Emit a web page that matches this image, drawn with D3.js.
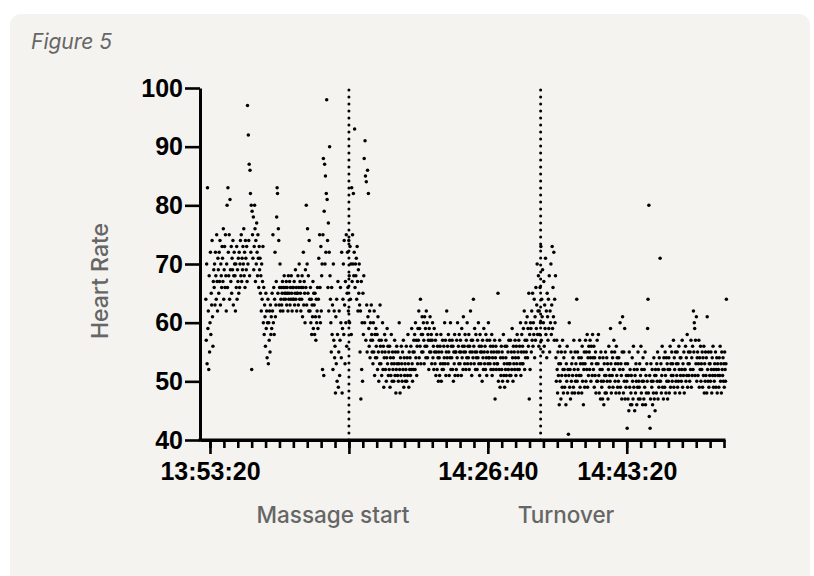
<!DOCTYPE html>
<html>
<head>
<meta charset="utf-8">
<script src="https://cdn.jsdelivr.net/npm/d3@7"></script>
<style>
  body { margin: 0; background: #fff; }
  svg { display: block; }
  .tick-label { font-family: "Liberation Sans", Arial, sans-serif; font-weight: bold; font-size: 25px; fill: #000; }
  .note { font-family: "Inter", "Inter Variable", "Open Sans", sans-serif; font-weight: 500; fill: #666; }
</style>
</head>
<body>
<svg id="chart" width="814" height="576"></svg>
<script>
// heart rate readings, one every 3 s from 13:52:50, in 5 minute blocks
const recordStart = "13:52:50";
const sampleStep = 3;

const hrBlock1 = [64,57,70,53,83,59,62,52,68,55, 60,72,58,65,63,74,61,56,67,69, 66,70,63,72,68,64,75,67,62,71, 69,65,72,67,74,63,70,68,66,73,
  71,67,76,64,69,73,66,75,68,62, 70,80,66,83,72,68,75,64,81,69, 67,73,65,71,69,74,63,68,72,70, 68,62,70,66,73,64,69,67,71,65,
  72,66,70,74,68,75,67,71,69,73, 70,76,68,72,66,74,71,69,73,67];
const hrBlock2 = [97,70,92,74,87,68,86,82,72,80, 52,79,75,71,78,69,73,80,76,67, 74,70,77,72,68,75,71,66,73,69, 71,65,68,62,70,64,67,73,60,66,
  58,63,61,56,65,59,62,54,60,64, 53,60,57,62,55,63,58,61,59,65, 62,75,60,66,58,64,72,61,63,67, 78,83,82,65,76,74,63,66,70,62,
  64,66,63,65,67,62,66,64,68,65, 66,64,65,67,63,66,65,62,68,64];
const hrBlock3 = [65,67,63,66,64,68,65,62,66,64, 66,64,67,63,65,69,64,66,62,65, 65,68,63,66,70,64,67,65,62,66, 64,68,61,66,72,63,67,65,60,69,
  66,80,63,70,76,65,68,62,74,64, 62,66,60,64,58,63,61,67,59,65, 63,58,65,61,57,64,60,62,66,59, 64,71,61,75,66,60,73,62,68,70,
  52,75,88,51,79,87,70,85,72,82, 98,81,74,66,77,62,72,90,68,64];
const hrBlock4 = [60,55,66,58,63,52,70,57,62,54, 56,48,61,53,64,50,58,67,49,55, 62,51,57,66,60,54,72,48,59,64, 70,58,74,63,53,67,60,75,56,65,
  72,66,62,74,68,60,73,64,70,58, 83,67,75,70,82,68,72,93,66,70, 68,71,64,73,67,62,69,65,70,63, 55,62,47,67,52,60,50,65,58,68,
  88,60,91,85,57,84,63,55,86,61, 82,59,56,62,54,60,57,63,58,55];
const hrBlock5 = [57,53,60,55,62,51,58,54,59,56, 54,58,52,61,55,50,57,53,63,56, 53,57,51,55,60,52,56,49,54,58, 55,52,57,50,54,59,53,56,51,55,
  52,56,49,54,51,58,53,50,55,52, 54,50,53,57,51,55,48,52,56,53, 51,55,50,53,60,52,48,54,51,56, 53,50,55,52,57,49,54,51,53,50,
  52,56,50,54,51,58,53,49,55,52, 54,51,56,52,59,53,50,55,52,57];
const hrBlock6 = [55,58,52,60,54,57,51,56,53,59, 57,62,54,59,56,64,53,58,55,61, 58,55,60,57,53,61,56,59,54,62, 56,60,54,58,57,52,59,55,61,57,
  55,58,53,57,60,54,56,52,59,55, 53,57,51,55,58,52,56,54,50,55, 54,51,56,53,58,50,55,52,57,53, 52,56,54,60,53,57,51,55,62,54,
  56,53,58,55,51,57,54,60,52,56, 54,57,52,56,50,55,53,58,51,55];
const hrBlock7 = [55,52,57,54,60,51,56,53,58,55, 53,57,55,51,59,54,56,52,61,55, 56,53,58,55,52,57,54,60,53,56, 54,58,52,56,55,62,53,57,51,55,
  57,54,64,56,53,59,55,52,58,54, 55,52,57,54,60,53,56,51,58,55, 53,56,55,50,57,54,52,59,55,53, 56,52,58,54,51,57,55,53,60,54,
  54,57,53,56,52,55,58,51,54,56, 52,55,53,57,47,54,56,52,55,53];
const hrBlock8 = [53,65,50,55,52,57,49,54,51,56, 52,55,50,54,58,51,53,49,56,52, 54,51,56,53,50,55,52,57,53,51, 53,57,51,55,52,59,54,50,56,53,
  55,52,57,54,51,56,53,58,52,55, 54,57,52,56,53,60,51,55,58,53, 56,53,59,55,62,52,57,54,60,55, 57,61,54,59,56,65,47,58,52,60,
  59,55,62,57,65,56,60,58,64,54, 61,57,66,59,63,70,58,62,68,56];
const hrBlock9 = [62,58,66,60,73,57,64,61,69,55, 60,67,56,63,59,71,58,62,54,65, 61,57,64,59,68,55,62,60,70,58, 63,73,59,66,61,72,57,64,60,68,
  54,50,57,52,48,55,51,53,46,56, 50,53,47,55,51,49,57,52,48,54, 52,49,55,51,46,53,50,56,48,52, 41,51,60,49,52,47,55,50,53,48,
  51,54,49,57,52,48,55,50,53,51, 64,50,55,52,48,54,51,57,49,53];
const hrBlock10 = [51,54,48,56,50,53,46,52,55,49, 53,57,50,55,52,58,49,54,51,56, 55,52,57,54,50,56,53,51,58,54, 52,56,49,54,51,55,48,53,50,57,
  50,53,58,51,48,54,52,47,55,50, 49,52,47,54,50,46,53,51,48,55, 51,48,54,50,53,47,52,56,49,51, 50,59,53,48,55,51,54,49,52,57,
  52,55,50,53,48,56,51,54,49,53, 50,54,48,52,60,49,53,51,47,55];
const hrBlock11 = [61,52,48,55,50,59,47,53,49,51, 50,42,53,47,51,45,55,49,52,46, 48,51,46,54,50,47,56,49,52,45, 51,48,53,50,46,52,49,55,47,50,
  49,53,47,51,56,48,52,50,46,54, 50,47,52,49,55,46,51,48,53,50, 59,64,48,80,44,51,42,47,53,50, 49,52,46,50,48,54,47,51,45,52,
  51,48,53,50,55,47,52,49,54,50, 71,50,53,48,51,56,49,52,47,54];
const hrBlock12 = [52,49,55,51,48,54,50,53,47,52, 50,54,48,52,56,49,53,51,55,50, 53,51,57,49,54,52,48,55,50,53, 51,55,49,53,50,56,52,48,54,51,
  54,50,52,57,49,53,51,55,48,52, 52,56,50,54,51,58,49,53,55,51, 53,50,55,52,57,49,54,51,56,52, 62,55,60,59,51,57,53,61,50,54,
  55,51,53,57,49,54,52,56,50,53, 52,55,49,54,51,56,48,53,50,55];
const hrBlock13 = [51,54,48,61,52,50,55,49,53,51, 53,50,55,52,48,54,51,56,49,52, 50,53,51,55,49,52,54,48,53,51, 52,49,54,51,56,50,53,48,55,52,
  51,54,50,53,49,55,52,50,53,64];

const events = ["14:10:00", "14:33:00"];
const eventNames = ["Massage start", "Turnover"];
const eventLabelX = [333, 566];

const yTicks = [40, 50, 60, 70, 80, 90, 100];
const majorTicks = ["13:53:20", "14:10:00", "14:26:40", "14:43:20"];
const majorLabels = ["13:53:20", "", "14:26:40", "14:43:20"];
const axisStart = "13:52:08";
const axisEnd = "14:55:00";
const minorStep = 100; // seconds

const parse = d3.timeParse("%H:%M:%S");
const readings = [].concat(hrBlock1, hrBlock2, hrBlock3, hrBlock4, hrBlock5, hrBlock6, hrBlock7,
  hrBlock8, hrBlock9, hrBlock10, hrBlock11, hrBlock12, hrBlock13);
const t0 = parse(recordStart).getTime();
const points = readings.map((v, i) => ({ t: new Date(t0 + i * sampleStep * 1000), v: v }));

const svg = d3.select("#chart");

svg.append("rect")
  .attr("x", 10).attr("y", 14)
  .attr("width", 800).attr("height", 600)
  .attr("rx", 11)
  .attr("fill", "#f4f3ef");

svg.append("text")
  .attr("class", "note")
  .attr("x", 31).attr("y", 49)
  .attr("font-size", 21)
  .style("font-weight", 400)
  .attr("font-style", "italic")
  .text("Figure 5");

const x = d3.scaleTime()
  .domain([parse(axisStart), parse(axisEnd)])
  .range([200, 724]);
const y = d3.scaleLinear()
  .domain([40, 100])
  .range([440, 88]);

// dotted event markers
svg.selectAll(".event")
  .data(events)
  .enter().append("line")
  .attr("class", "event")
  .attr("x1", d => x(parse(d))).attr("x2", d => x(parse(d)))
  .attr("y1", y(40)).attr("y2", y(100))
  .attr("stroke", "#000")
  .attr("stroke-width", 3)
  .attr("stroke-linecap", "round")
  .attr("stroke-dasharray", "0 7");

svg.append("g")
  .selectAll("circle")
  .data(points)
  .enter().append("circle")
  .attr("cx", d => x(d.t))
  .attr("cy", d => y(d.v))
  .attr("r", 1.75)
  .attr("fill", "#000");

// axes
const first = parse(majorTicks[0]).getTime();
const minorTicks = d3.range(0, 38).map(i => new Date(first + i * minorStep * 1000));

const xMinor = svg.append("g")
  .attr("transform", "translate(0,440)")
  .call(d3.axisBottom(x).tickValues(minorTicks).tickSize(8).tickSizeOuter(0).tickFormat(""));

const xMajor = svg.append("g")
  .attr("transform", "translate(0,440)")
  .call(d3.axisBottom(x).tickValues(majorTicks.map(parse)).tickSize(14).tickSizeOuter(0).tickPadding(8)
    .tickFormat((d, i) => majorLabels[i]));

const yAxis = svg.append("g")
  .attr("transform", "translate(200,0)")
  .call(d3.axisLeft(y).tickValues(yTicks).tickSize(15).tickSizeOuter(0).tickPadding(2));

[xMinor, xMajor, yAxis].forEach(g => {
  g.select(".domain").attr("stroke", "#000").attr("stroke-width", 3);
  g.selectAll(".tick line").attr("stroke", "#000").attr("stroke-width", 2.6);
  g.selectAll(".tick text").attr("class", "tick-label").attr("font-size", null).attr("font-family", null);
});
xMinor.select(".domain").attr("d", "M198.5,0H725.5");

svg.append("text")
  .attr("class", "note")
  .attr("transform", "translate(108,281) rotate(-90)")
  .attr("text-anchor", "middle")
  .attr("font-size", 23)
  .text("Heart Rate");

svg.selectAll(".event-name")
  .data(eventNames)
  .enter().append("text")
  .attr("class", "note")
  .attr("x", (d, i) => eventLabelX[i])
  .attr("y", 523)
  .attr("text-anchor", "middle")
  .attr("font-size", 22.5)
  .text(d => d);
</script>
</body>
</html>
